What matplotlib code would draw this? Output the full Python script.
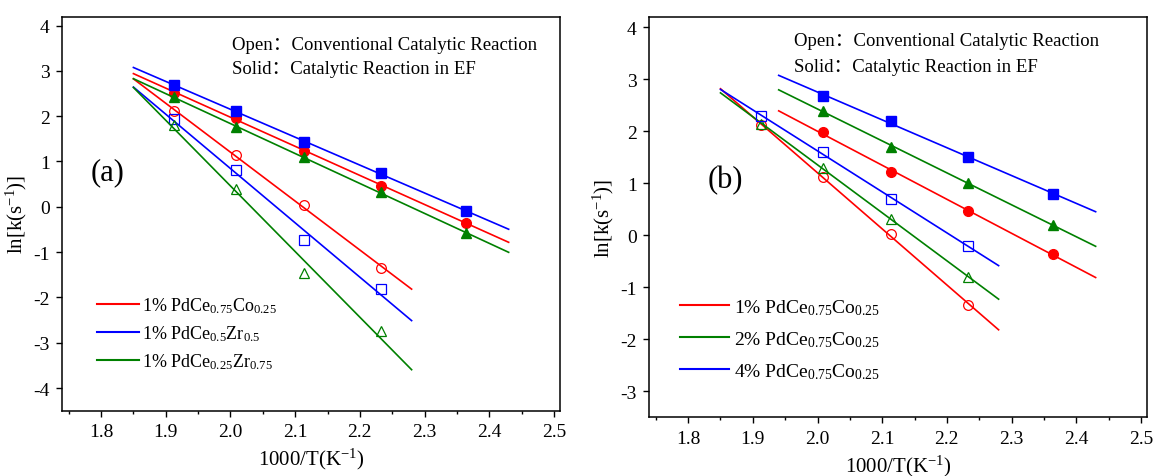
import numpy as np
import matplotlib
matplotlib.use("Agg")
import matplotlib.pyplot as plt
from matplotlib.ticker import MultipleLocator

plt.rcParams['font.family'] = ['Liberation Serif', 'Noto Sans CJK SC']
plt.rcParams['mathtext.fontset'] = 'custom'
plt.rcParams['mathtext.rm'] = 'Liberation Serif'
plt.rcParams['mathtext.it'] = 'Liberation Serif:italic'
plt.rcParams['axes.unicode_minus'] = False

# 1000/T values for 523, 498, 473, 448, 423 K
x_pts = [1.912, 2.008, 2.114, 2.232, 2.364]

# panel (a): solid = in EF, open = conventional
a_labels = ['1% PdCe$_{0.75}$Co$_{0.25}$', '1% PdCe$_{0.5}$Zr$_{0.5}$',
            '1% PdCe$_{0.25}$Zr$_{0.75}$']
a_solid = [[2.52, 1.97, 1.23, 0.47, -0.35],
           [2.68, 2.12, 1.44, 0.74, -0.10],
           [2.42, 1.77, 1.09, 0.32, -0.58]]
a_open = [[2.12, 1.14, 0.03, -1.34],
          [1.93, 0.82, -0.74, -1.82],
          [1.80, 0.40, -1.47, -2.74]]

# panel (b)
b_labels = ['1% PdCe$_{0.75}$Co$_{0.25}$', '2% PdCe$_{0.75}$Co$_{0.25}$',
            '4% PdCe$_{0.75}$Co$_{0.25}$']
b_solid = [[1.98, 1.22, 0.47, -0.36],
           [2.40, 1.70, 1.01, 0.20],
           [2.68, 2.20, 1.50, 0.80]]
b_open = [[2.12, 1.13, 0.03, -1.34],
          [2.15, 1.30, 0.32, -0.80],
          [2.30, 1.60, 0.70, -0.20]]

colors_a = ['#ff0000', '#0000ff', '#008000']
colors_b = ['#ff0000', '#008000', '#0000ff']
markers_a = ['o', 's', '^']
markers_b = ['o', '^', 's']


def fit_line(ax, xs, ys, x0, x1, c):
    k, b = np.polyfit(xs, ys, 1)
    xx = np.array([x0, x1])
    ax.plot(xx, k * xx + b, color=c, lw=1.2)


def style(ax, ylim, yticks):
    ax.set_xlim(1.74, 2.51)
    ax.set_ylim(*ylim)
    ax.set_xticks([1.8, 1.9, 2.0, 2.1, 2.2, 2.3, 2.4, 2.5])
    ax.set_xticklabels(['1.8', '1.9', '2.0', '2.1', '2.2', '2.3', '2.4', '2.5'])
    ax.xaxis.set_minor_locator(MultipleLocator(0.05))
    ax.set_yticks(yticks)
    ax.tick_params(direction='out', labelsize=14, length=4.5, width=1, pad=4.5)
    ax.tick_params(which='minor', direction='out', length=2.5, width=1)
    for s in ax.spines.values():
        s.set_linewidth(1.1)
    ax.set_xlabel('1000/T(K$^{-1}$)', fontsize=15, labelpad=4)
    ax.set_ylabel('ln[k(s$^{-1}$)]', fontsize=15, labelpad=3)


fig = plt.figure(figsize=(11.55, 4.77), dpi=100)
ax1 = fig.add_axes([0.0539, 0.1369, 0.4313, 0.8264])
ax2 = fig.add_axes([0.5622, 0.1231, 0.4312, 0.8392])

# panel (a)
handles = []
for i in range(3):
    c = colors_a[i]
    fit_line(ax1, x_pts, a_solid[i], 1.85, 2.43, c)
    fit_line(ax1, x_pts[:4], a_open[i], 1.85, 2.28, c)
    ax1.plot(x_pts, a_solid[i], ls='none', marker=markers_a[i], ms=7, color=c)
    ax1.plot(x_pts[:4], a_open[i], ls='none', marker=markers_a[i], ms=7,
             mfc='none', mec=c, mew=0.9)
    h, = ax1.plot([], [], color=c, lw=1.5, label=a_labels[i])
    handles.append(h)
ax1.legend(handles=handles, loc='upper left', bbox_to_anchor=(0.07, 0.292),
           frameon=False, fontsize=13, handlelength=2.3, handletextpad=0.2,
           labelspacing=0.45, borderpad=0, borderaxespad=0)
style(ax1, (-4.5, 4.2), [-4, -3, -2, -1, 0, 1, 2, 3, 4])
ax1.text(0.341, 0.928, 'Open：Conventional Catalytic Reaction', transform=ax1.transAxes,
         fontsize=13.5, va='center')
ax1.text(0.341, 0.867, 'Solid：Catalytic Reaction in EF', transform=ax1.transAxes,
         fontsize=13.5, va='center')
ax1.text(0.056, 0.607, '(a)', transform=ax1.transAxes, fontsize=22, va='center')

# panel (b)
handles = []
for i in range(3):
    c = colors_b[i]
    fit_line(ax2, x_pts[1:], b_solid[i], 1.94, 2.43, c)
    fit_line(ax2, x_pts[:4], b_open[i], 1.85, 2.28, c)
    ax2.plot(x_pts[1:], b_solid[i], ls='none', marker=markers_b[i], ms=7, color=c)
    ax2.plot(x_pts[:4], b_open[i], ls='none', marker=markers_b[i], ms=7,
             mfc='none', mec=c, mew=0.9)
    h, = ax2.plot([], [], color=c, lw=1.5, label=b_labels[i])
    handles.append(h)
ax2.legend(handles=handles, loc='upper left', bbox_to_anchor=(0.062, 0.30),
           frameon=False, fontsize=14, handlelength=2.5, handletextpad=0.25,
           labelspacing=0.63, borderpad=0, borderaxespad=0)
style(ax2, (-3.5, 4.2), [-3, -2, -1, 0, 1, 2, 3, 4])
ax2.text(0.29, 0.941, 'Open：Conventional Catalytic Reaction', transform=ax2.transAxes,
         fontsize=13.5, va='center')
ax2.text(0.29, 0.876, 'Solid：Catalytic Reaction in EF', transform=ax2.transAxes,
         fontsize=13.5, va='center')
ax2.text(0.118, 0.595, '(b)', transform=ax2.transAxes, fontsize=22, va='center')

fig.savefig('out.png', dpi=100)
